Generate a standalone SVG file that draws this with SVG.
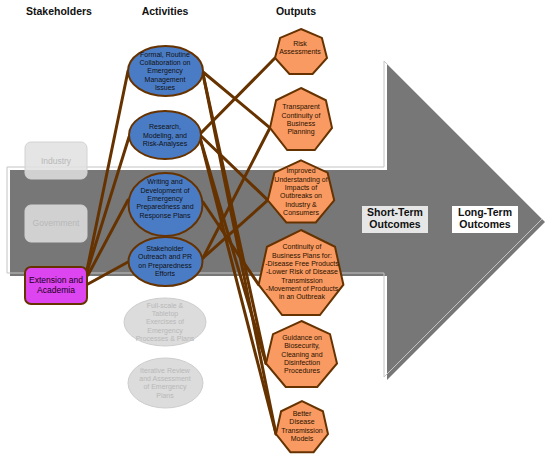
<svg xmlns="http://www.w3.org/2000/svg" width="550" height="459" viewBox="0 0 550 459">
<style>
text{font-family:"Liberation Sans",Arial,sans-serif;text-anchor:middle}
.hdr{font-size:10.5px;font-weight:bold;fill:#111}
.act{fill:#4a7cc6;stroke:#663300;stroke-width:2}
.actt{font-size:7px;fill:#111}
.gr{fill:#dcdcdc;stroke:#cdcdcd;stroke-width:1}
.grt{font-size:7px;fill:#b8b8b8}
.out{fill:#f99a62;stroke:#663300;stroke-width:2}
.outt{font-size:7px;fill:#2a1200}
.sk{fill:#e0e0e0;fill-opacity:0.85;stroke:#d2d2d2;stroke-width:1}
.skt{font-size:8.5px;fill:#b8b8b8}
.con line{stroke:#663300;stroke-width:3;stroke-linecap:round}
.oc{font-size:10.5px;font-weight:bold;fill:#111}
</style>
<rect width="550" height="459" fill="#fff"/>
<g id="big-arrow">
<polygon points="10,170 387,170 387,64 545,222 387,380 387,276 10,276" fill="#777777"/>
<polygon points="7,167 384,167 384,61 542,219 384,377 384,273 7,273" fill="none" stroke="#c4c4c4" stroke-width="1"/>
</g>
<g id="headers">
<text class="hdr" x="59" y="15">Stakeholders</text>
<text class="hdr" x="165" y="15">Activities</text>
<text class="hdr" x="296" y="15">Outputs</text>
</g>
<g id="outcome-short">
<rect x="362" y="206" width="66" height="27" fill="#e6e6e6"/>
<text class="oc" x="395" y="215.5">Short-Term</text>
<text class="oc" x="395" y="227.8">Outcomes</text>
</g>
<g id="outcome-long">
<rect x="452" y="206" width="66" height="27" fill="#ffffff"/>
<text class="oc" x="485" y="215.5">Long-Term</text>
<text class="oc" x="485" y="227.8">Outcomes</text>
</g>
<g class="con" id="connectors">
<line x1="87" y1="270" x2="128" y2="71"/>
<line x1="87" y1="272" x2="129" y2="137"/>
<line x1="88" y1="275" x2="128" y2="200"/>
<line x1="88" y1="284" x2="128" y2="262"/>
<line x1="203" y1="72" x2="270" y2="127.8"/>
<line x1="203" y1="74" x2="266" y2="363.4"/>
<line x1="203" y1="74" x2="276" y2="434"/>
<line x1="200" y1="134" x2="275" y2="58"/>
<line x1="201" y1="136" x2="267.8" y2="200.2"/>
<line x1="200" y1="138" x2="266" y2="363.4"/>
<line x1="200" y1="138" x2="276" y2="434"/>
<line x1="203" y1="202" x2="258.6" y2="284.6"/>
<line x1="203" y1="258" x2="270" y2="127.8"/>
<line x1="203" y1="258" x2="267.8" y2="200.2"/>
</g>
<g id="industry">
<rect class="sk" x="25" y="142" width="62" height="37" rx="6"/>
<text class="skt" x="56" y="163.7">Industry</text>
</g>
<g id="government">
<rect class="sk" x="25" y="205" width="62" height="37" rx="6"/>
<text class="skt" x="56" y="226.3">Government</text>
</g>
<g id="extension">
<rect x="25" y="267" width="62" height="37" rx="6" fill="#dc45f0" stroke="#663300" stroke-width="2"/>
<text x="56" y="283" font-size="8.5" fill="#1a001a">Extension and</text>
<text x="56" y="293" font-size="8.5" fill="#1a001a">Academia</text>
</g>
<g id="act-formal">
<ellipse class="act" cx="165.5" cy="71" rx="37.5" ry="25"/>
<text class="actt" x="165"><tspan x="165" y="56.5">Formal, Routine</tspan><tspan x="165" y="64.8">Collaboration on</tspan><tspan x="165" y="73.2">Emergency</tspan><tspan x="165" y="81.5">Management</tspan><tspan x="165" y="89.8">Issues</tspan></text>
</g>
<g id="act-research">
<ellipse class="act" cx="165" cy="135" rx="36" ry="24"/>
<text class="actt"><tspan x="165" y="129.2">Research,</tspan><tspan x="165" y="137.5">Modeling, and</tspan><tspan x="165" y="145.8">Risk-Analyses</tspan></text>
</g>
<g id="act-writing">
<ellipse class="act" cx="165.5" cy="204.5" rx="37" ry="31.5"/>
<text class="actt"><tspan x="165" y="184.2">Writing and</tspan><tspan x="165" y="192.5">Development of</tspan><tspan x="165" y="200.8">Emergency</tspan><tspan x="165" y="209.2">Preparedness and</tspan><tspan x="165" y="217.5">Response Plans</tspan></text>
</g>
<g id="act-outreach">
<ellipse class="act" cx="165.5" cy="261.5" rx="37" ry="24.5"/>
<text class="actt"><tspan x="165" y="250.8">Stakeholder</tspan><tspan x="165" y="259.2">Outreach and PR</tspan><tspan x="165" y="267.5">on Preparedness</tspan><tspan x="165" y="275.8">Efforts</tspan></text>
</g>
<g id="act-fullscale">
<ellipse class="gr" cx="165" cy="322" rx="41" ry="24"/>
<text class="grt"><tspan x="165" y="307.5">Full-scale &amp;</tspan><tspan x="165" y="315.8">Tabletop</tspan><tspan x="165" y="324.2">Exercises of</tspan><tspan x="165" y="332.5">Emergency</tspan><tspan x="165" y="340.8">Processes &amp; Plans</tspan></text>
</g>
<g id="act-iterative">
<ellipse class="gr" cx="165.5" cy="383" rx="37.5" ry="25"/>
<text class="grt"><tspan x="165" y="372.5">Iterative Review</tspan><tspan x="165" y="380.8">and Assessment</tspan><tspan x="165" y="389.2">of Emergency</tspan><tspan x="165" y="397.5">Plans</tspan></text>
</g>
<g id="out-risk">
<polygon class="out" points="301,29 321.9,37.9 327,58 312.6,74 289.4,74 275,58 280.1,37.9"/>
<text class="outt"><tspan x="300" y="45.8">Risk</tspan><tspan x="300" y="54.2">Assessments</tspan></text>
</g>
<g id="out-transparent">
<polygon class="out" points="301,88 325.9,100.3 332,127.9 314.8,150 287.2,150 270,127.9 276.1,100.3"/>
<text class="outt"><tspan x="301" y="109.2">Transparent</tspan><tspan x="301" y="117.5">Continuity of</tspan><tspan x="301" y="125.8">Business</tspan><tspan x="301" y="134.2">Planning</tspan></text>
</g>
<g id="out-improved">
<polygon class="out" points="301,160.4 327.6,172.7 334.2,200.3 315.8,222.4 286.3,222.4 267.8,200.3 274.4,172.7"/>
<text class="outt"><tspan x="301" y="173.2">Improved</tspan><tspan x="301" y="181.5">Understanding of</tspan><tspan x="301" y="189.8">Impacts of</tspan><tspan x="301" y="198.2">Outbreaks on</tspan><tspan x="301" y="206.5">Industry &amp;</tspan><tspan x="301" y="214.8">Consumers</tspan></text>
</g>
<g id="out-continuity">
<polygon class="out" points="301,230 335,246.8 343.4,284.7 319.9,315 282.1,315 258.6,284.7 267,246.8"/>
<text class="outt"><tspan x="302" y="249.2">Continuity of</tspan><tspan x="302" y="257.5">Business Plans for:</tspan><tspan x="302" y="265.8">-Disease Free Products</tspan><tspan x="302" y="274.2">-Lower Risk of Disease</tspan><tspan x="302" y="282.5">Transmission</tspan><tspan x="302" y="290.8">-Movement of Products</tspan><tspan x="302" y="299.2">in an Outbreak</tspan></text>
</g>
<g id="out-guidance">
<polygon class="out" points="301.5,321 330,334.1 337,363.4 317.3,387 285.7,387 266,363.4 273,334.1"/>
<text class="outt"><tspan x="302" y="339.8">Guidance on</tspan><tspan x="302" y="348.2">Biosecurity,</tspan><tspan x="302" y="356.5">Cleaning and</tspan><tspan x="302" y="364.8">Disinfection</tspan><tspan x="302" y="373.2">Procedures</tspan></text>
</g>
<g id="out-better">
<polygon class="out" points="302,401.2 322.9,411.3 328,434 313.6,452.2 290.4,452.2 276,434 281.1,411.3"/>
<text class="outt"><tspan x="302" y="415.8">Better</tspan><tspan x="302" y="424.2">Disease</tspan><tspan x="302" y="432.5">Transmission</tspan><tspan x="302" y="440.8">Models</tspan></text>
</g>
</svg>
